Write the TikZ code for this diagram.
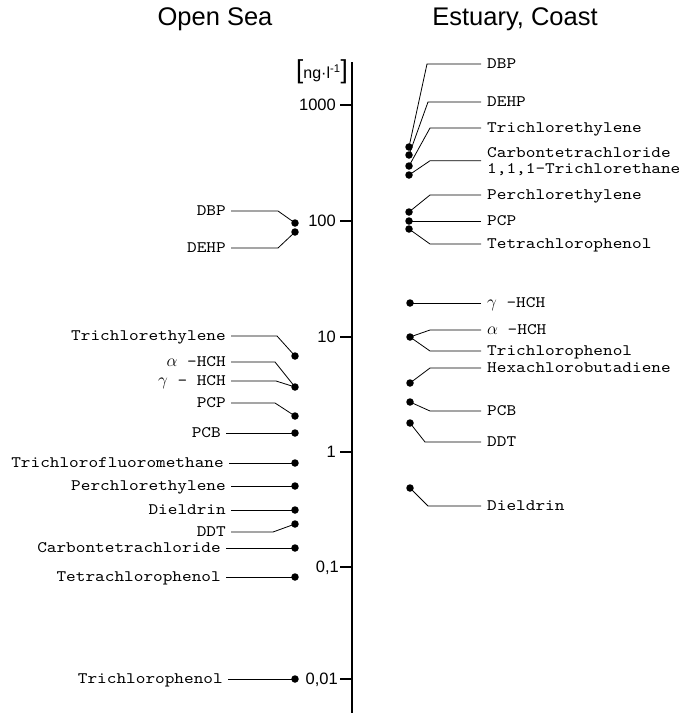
\documentclass[tikz,border=0pt]{standalone}
\usepackage{fontspec}
\usepackage{tikz}
\usetikzlibrary{calc}
\newfontfamily\headfont{Liberation Sans}
\newfontfamily\monofont[Extension=.otf,FakeStretch=1.15]{lmmono10-regular}
\newcommand\labfont{\monofont\fontsize{16}{15.5}\selectfont}

\begin{document}
\begin{tikzpicture}[x=1pt,y=-1pt,
	dot/.style={circle,fill=black,inner sep=0pt,minimum size=7.5pt},
	lab/.style={font=\labfont,inner ysep=0pt,inner xsep=5pt},
	one/.style={lab,text height=9pt,text depth=0pt},
	llab/.style={one,anchor=east},
	rlab/.style={one,anchor=west,inner xsep=6pt},
	ticklab/.style={font=\headfont\fontsize{16.5}{16.5}\selectfont,anchor=east,inner sep=0pt,text height=11.5pt,text depth=0pt},
	conn/.style={line width=0.8pt}]
	\useasboundingbox (0,0) rectangle (679,713);
	\node[font=\headfont\fontsize{25.5}{25.5}\selectfont] (sea) at (215,19) {Open Sea};
	\node[font=\headfont\fontsize{25.5}{25.5}\selectfont] (coast) at (515,19) {Estuary, Coast};
	% axis
	\coordinate (top) at (352,62);
	\coordinate (bot) at (352,713);
	\draw[line width=2.2pt] (top) -- (bot);
	\node[font=\headfont\fontsize{16}{16}\selectfont,inner sep=0pt,anchor=east] (unit) at (348,72) {{\fontsize{26}{26}\selectfont[}ng·l\textsuperscript{-1}{\fontsize{26}{26}\selectfont]}};
	\node[ticklab] (t3) at (336,105) {1000};
	\node[ticklab] (t2) at (336,221) {100};
	\node[ticklab] (t1) at (336,337) {10};
	\node[ticklab] (t0) at (336,452) {1};
	\node[ticklab] (tm1) at (339,567) {0,1};
	\node[ticklab] (tm2) at (338,679) {0,01};
	\foreach \y in {105,221,337,452,567,679}
		\draw[line width=1.4pt] (340,\y) -- (352,\y);
	% open sea
	\node[dot] (la) at (295,223) {};
	\node[dot] (lb) at (295,232) {};
	\node[dot] (lc) at (295,356) {};
	\node[dot] (ld) at (295,387) {};
	\node[dot] (le) at (295,416) {};
	\node[dot] (lf) at (295,433) {};
	\node[dot] (lg) at (295,463) {};
	\node[dot] (lh) at (295,486) {};
	\node[dot] (li) at (295,510) {};
	\node[dot] (lj) at (295,524) {};
	\node[dot] (lk) at (295,548) {};
	\node[dot] (ll) at (295,577) {};
	\node[dot] (lm) at (295,679) {};
	\node[llab] (lDBP) at (231,211) {DBP};
	\node[llab] (lDEHP) at (231,248) {DEHP};
	\node[llab] (lTCE) at (231,336) {Trichlorethylene};
	\node[llab] (lAHCH) at (231,362) {$\alpha$ -HCH};
	\node[llab] (lGHCH) at (231,381) {$\gamma$ - HCH};
	\node[llab] (lPCP) at (231,403) {PCP};
	\node[llab] (lPCB) at (226,433) {PCB};
	\node[llab] (lTCFM) at (229,463) {Trichlorofluoromethane};
	\node[llab] (lPER) at (231,486) {Perchlorethylene};
	\node[llab] (lDIE) at (231,510) {Dieldrin};
	\node[llab] (lDDT) at (231,532) {DDT};
	\node[llab] (lCTC) at (226,548) {Carbontetrachloride};
	\node[llab] (lTECP) at (226,577) {Tetrachlorophenol};
	\node[llab] (lTRCP) at (228,679) {Trichlorophenol};
	\draw[conn] (lDBP.east) -- ++(47,0) -- (la.center);
	\draw[conn] (lDEHP.east) -- ++(47,0) -- (lb.center);
	\draw[conn] (lTCE.east) -- ++(46,0) -- (lc.center);
	\draw[conn] (lAHCH.east) -- ++(44,0) -- (ld.center);
	\draw[conn] (lGHCH.east) -- ++(45,0) -- (ld.center);
	\draw[conn] (lPCP.east) -- ++(44,0) -- (le.center);
	\draw[conn] (lPCB.east) -- (lf.center);
	\draw[conn] (lTCFM.east) -- (lg.center);
	\draw[conn] (lPER.east) -- (lh.center);
	\draw[conn] (lDIE.east) -- (li.center);
	\draw[conn] (lDDT.east) -- ++(42,0) -- (lj.center);
	\draw[conn] (lCTC.east) -- (lk.center);
	\draw[conn] (lTECP.east) -- (ll.center);
	\draw[conn] (lTRCP.east) -- (lm.center);
	% estuary, coast
	\node[dot] (ra) at (409,147) {};
	\node[dot] (rb) at (409,155) {};
	\node[dot] (rc) at (409,166) {};
	\node[dot] (rd) at (409,175) {};
	\node[dot] (re) at (409,212) {};
	\node[dot] (rf) at (409,221) {};
	\node[dot] (rg) at (409,229) {};
	\node[dot] (rh) at (410,303) {};
	\node[dot] (ri) at (410,337) {};
	\node[dot] (rj) at (410,383) {};
	\node[dot] (rk) at (410,402) {};
	\node[dot] (rl) at (410,423) {};
	\node[dot] (rm) at (410,488) {};
	\node[rlab] (rDBP) at (481,64) {DBP};
	\node[rlab] (rDEHP) at (481,102) {DEHP};
	\node[rlab] (rTCE) at (481,128) {Trichlorethylene};
	\node[rlab] (rCTC) at (481,152.5) {Carbontetrachloride};
	\node[rlab] (rTCA) at (481,169) {1,1,1-Trichlorethane};
	\node[rlab] (rPER) at (481,195) {Perchlorethylene};
	\node[rlab] (rPCP) at (481,221) {PCP};
	\node[rlab] (rTECP) at (481,244) {Tetrachlorophenol};
	\node[rlab] (rGHCH) at (481,303) {$\gamma$ -HCH};
	\node[rlab] (rAHCH) at (481,330) {$\alpha$ -HCH};
	\node[rlab] (rTRCP) at (481,351) {Trichlorophenol};
	\node[rlab] (rHCB) at (481,368) {Hexachlorobutadiene};
	\node[rlab] (rPCB) at (481,411) {PCB};
	\node[rlab] (rDDT) at (481,442) {DDT};
	\node[rlab] (rDIE) at (481,506) {Dieldrin};
	\draw[conn] (rDBP.west) -- ++(-54,0) -- (ra.center);
	\draw[conn] (rDEHP.west) -- ++(-53,0) -- (rb.center);
	\draw[conn] (rTCE.west) -- ++(-51,0) -- (rc.center);
	\draw[conn] ($(rCTC.west)!0.5!(rTCA.west)$) -- ++(-51,0) -- (rd.center);
	\draw[conn] (rPER.west) -- ++(-51,0) -- (re.center);
	\draw[conn] (rPCP.west) -- (rf.center);
	\draw[conn] (rTECP.west) -- ++(-51,0) -- (rg.center);
	\draw[conn] (rGHCH.west) -- (rh.center);
	\draw[conn] (rAHCH.west) -- ++(-51,0) -- (ri.center);
	\draw[conn] (rTRCP.west) -- ++(-51,0) -- (ri.center);
	\draw[conn] (rHCB.west) -- ++(-51,0) -- (rj.center);
	\draw[conn] (rPCB.west) -- ++(-51,0) -- (rk.center);
	\draw[conn] (rDDT.west) -- ++(-56,0) -- (rl.center);
	\draw[conn] (rDIE.west) -- ++(-53,0) -- (rm.center);
\end{tikzpicture}
\end{document}
